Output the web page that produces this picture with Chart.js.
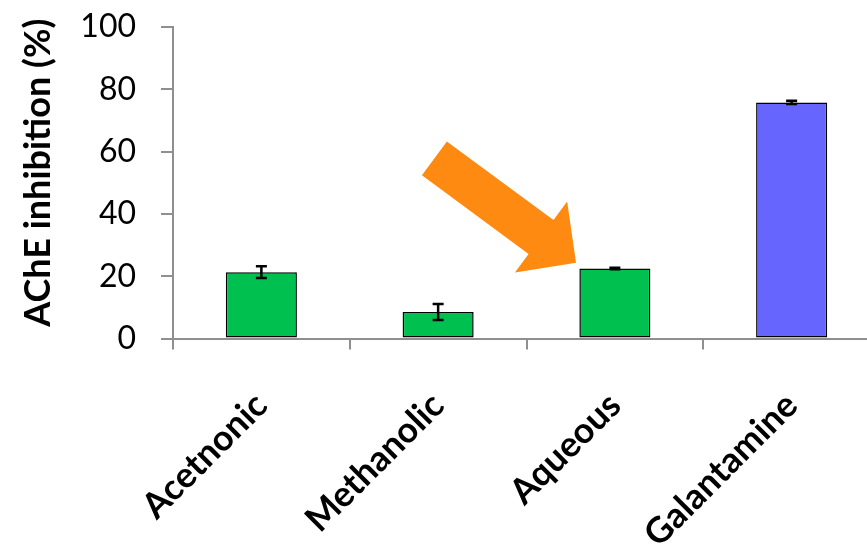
<!DOCTYPE html>
<html>
<head>
<meta charset="utf-8">
<script src="https://cdn.jsdelivr.net/npm/chart.js@4/dist/chart.umd.min.js"></script>
<style>
  html, body { margin: 0; padding: 0; background: #ffffff; overflow: hidden; }
  #wrap { position: relative; width: 880px; height: 547px; }
</style>
</head>
<body>
<div id="wrap"><canvas id="chart"></canvas></div>
<script>
// Extract types and the reference drug
const categories = ['Acetnonic', 'Methanolic', 'Aqueous', 'Galantamine'];
// Mean AChE inhibition (%)
const inhibition = [21.3, 8.5, 22.5, 75.8];
// Standard deviation for each mean
const errors = [1.9, 2.6, 0.25, 0.55];
const barColors = ['#00C050', '#00C050', '#00C050', '#6666FF'];
const yTicks = [0, 20, 40, 60, 80, 100];
const yTitle = 'AChE inhibition (%)';
const highlightIndex = 2; // extract pointed out by the arrow

const FONT = 'Lato, "Open Sans", sans-serif';
const AXIS_GREY = '#8f8f8f';

// Whiskers with caps, positioned through the y scale
const errorBars = {
  id: 'errorBars',
  afterDatasetsDraw(chart) {
    const { ctx, scales: { y } } = chart;
    const meta = chart.getDatasetMeta(0);
    ctx.save();
    ctx.strokeStyle = '#000000';
    ctx.lineWidth = 2.5;
    meta.data.forEach((bar, i) => {
      const v = inhibition[i], e = errors[i];
      const top = y.getPixelForValue(v + e);
      const bot = y.getPixelForValue(v - e);
      const half = 5.5;
      ctx.beginPath();
      ctx.moveTo(bar.x, top); ctx.lineTo(bar.x, bot);
      ctx.moveTo(bar.x - half, top); ctx.lineTo(bar.x + half, top);
      ctx.moveTo(bar.x - half, bot); ctx.lineTo(bar.x + half, bot);
      ctx.stroke();
    });
    ctx.restore();
  }
};

// Block arrow pointing at the top-left corner of the highlighted bar
const pointerArrow = {
  id: 'pointerArrow',
  afterDatasetsDraw(chart) {
    const { ctx } = chart;
    const bar = chart.getDatasetMeta(0).data[highlightIndex];
    const tipX = bar.x - bar.width / 2 - 3.3;
    const tipY = bar.y - 5.6;
    const angle = 36.4 * Math.PI / 180;
    const length = 176, shaftW = 42, headW = 88, headL = 43.5;
    ctx.save();
    ctx.translate(tipX, tipY);
    ctx.rotate(angle);
    ctx.beginPath();
    ctx.moveTo(0, 0);
    ctx.lineTo(-headL, -headW / 2);
    ctx.lineTo(-headL, -shaftW / 2);
    ctx.lineTo(-length, -shaftW / 2);
    ctx.lineTo(-length, shaftW / 2);
    ctx.lineTo(-headL, shaftW / 2);
    ctx.lineTo(-headL, headW / 2);
    ctx.closePath();
    ctx.fillStyle = '#FF8A11';
    ctx.fill();
    ctx.restore();
  }
};

// Vertical axis title, set slightly above the middle of the plot area
const axisTitle = {
  id: 'axisTitle',
  afterDraw(chart) {
    const { ctx, chartArea } = chart;
    const cy = (chartArea.top + chartArea.bottom) / 2 - 10;
    ctx.save();
    ctx.translate(50, cy);
    ctx.rotate(-Math.PI / 2);
    ctx.font = 'bold 36px ' + FONT;
    ctx.fillStyle = '#000000';
    ctx.textAlign = 'center';
    ctx.textBaseline = 'alphabetic';
    ctx.fillText(yTitle, 0, 0);
    ctx.restore();
  }
};

new Chart(document.getElementById('chart'), {
  type: 'bar',
  data: {
    labels: categories,
    datasets: [{
      data: inhibition,
      backgroundColor: barColors,
      borderColor: '#000000',
      borderWidth: 1.5,
      borderSkipped: false,
      barPercentage: 0.402,
      categoryPercentage: 1.0
    }]
  },
  options: {
    responsive: true,
    maintainAspectRatio: false,
    animation: false,
    devicePixelRatio: 1,
    layout: { padding: { top: 27, left: 0, right: 0, bottom: 0 } },
    plugins: { legend: { display: false }, tooltip: { enabled: false }, title: { display: false } },
    scales: {
      x: {
        offset: true,
        grid: { display: true, drawOnChartArea: false, drawTicks: true, tickLength: 11, color: AXIS_GREY, lineWidth: 2, offset: true },
        border: { display: true, color: AXIS_GREY, width: 2 },
        ticks: {
          color: '#000000',
          font: { family: FONT, size: 35.5, weight: 'bold' },
          maxRotation: 45, minRotation: 45,
          padding: 35,
          autoSkip: false
        },
        afterFit(scale) { scale.height = 208.5; }
      },
      y: {
        min: 0, max: 100,
        afterBuildTicks(scale) { scale.ticks = yTicks.map(v => ({ value: v })); },
        grid: { display: true, drawOnChartArea: false, drawTicks: true, tickLength: 12, color: AXIS_GREY, lineWidth: 2 },
        border: { display: true, color: AXIS_GREY, width: 2 },
        ticks: {
          color: '#000000',
          font: { family: FONT, size: 32 },
          padding: 25
        },
        title: { display: false },
        afterFit(scale) {
          scale.width = 173;
          scale.paddingTop = 0;
          scale.paddingBottom = 0;
        }
      }
    }
  },
  plugins: [errorBars, pointerArrow, axisTitle]
});
</script>
</body>
</html>
